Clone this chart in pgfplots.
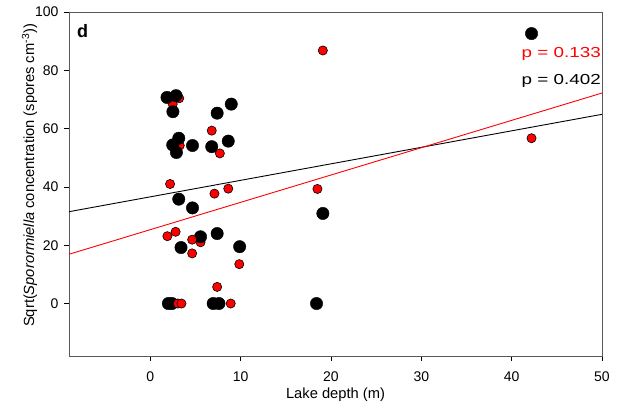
\documentclass[border=0pt]{standalone}
\usepackage{pgfplots}
\pgfplotsset{compat=1.18}
\usepackage{fontspec}
\setmainfont{Liberation Sans}
\newfontfamily\widefont{Liberation Sans}[FakeStretch=1.3]

\begin{document}
\begin{tikzpicture}
\useasboundingbox (-69pt,-53pt) rectangle (557pt,356pt);
\begin{axis}[
    at={(0,0)}, anchor=south west,
    width=533pt, height=344pt, scale only axis,
    xmin=-9, xmax=50, ymin=-18, ymax=100,
    xtick={0,10,...,50}, ytick={0,20,...,100},
    tick align=outside, tick pos=left,
    major tick length=5pt,
    tick style={black, line width=0.6pt},
    axis line style={draw=black!65, line width=0.8pt},
    /pgf/number format/assume math mode=true,
    ticklabel style={font=\fontsize{14}{16}\selectfont},
    xticklabel style={yshift=-7pt},
    yticklabel style={xshift=-2pt},
    xlabel={Lake depth (m)},
    ylabel={Sqrt(\textit{Sporormiella} concentration (spores cm\textsuperscript{-3}))},
    xlabel style={font=\fontsize{14.7}{16}\selectfont, at={(axis description cs:0.5,-0.113)}, anchor=center},
    ylabel style={font=\fontsize{14.7}{16}\selectfont, at={(axis description cs:-0.074,0.525)}, anchor=center},
    clip=false,
]
% regression lines
\addplot[black, line width=0.9pt] coordinates {(-9,31.5) (50,64.9)};
\addplot[red, line width=0.9pt] coordinates {(-9,16.9) (50,72.2)};

% red points partly covered by black ones
\addplot[only marks, mark=*, mark size=4.6pt, mark options={fill=red, draw=black, line width=0.6pt}]
  coordinates {(3.26,54.2) (3.2,70.4) (5.56,21.0) (2.48,68.4)};

% black points
\addplot[only marks, mark=*, mark size=6.2pt, mark options={fill=black, draw=black}]
  coordinates {
    (1.85,70.7) (2.85,71.3) (2.5,65.8) (8.96,68.4) (7.4,65.3)
    (3.15,56.7) (2.48,54.4) (2.89,51.8) (4.67,54.2) (6.8,53.8) (8.63,55.7)
    (3.15,35.8) (4.67,32.8) (7.4,24.0) (5.56,22.9) (3.4,19.2) (9.89,19.5)
    (19.1,30.9) (18.4,0) (2.0,0) (2.4,0) (6.96,0) (7.6,0) (42.2,92.6)
  };

% red points
\addplot[only marks, mark=*, mark size=4.6pt, mark options={fill=red, draw=black, line width=0.6pt}]
  coordinates {
    (19.1,86.8) (6.8,59.3) (7.7,51.5) (2.19,41.0) (7.1,37.7)
    (8.63,39.4) (18.5,39.3) (1.89,23.1) (2.8,24.6) (4.63,21.9) (4.63,17.2)
    (9.85,13.5) (7.4,5.7) (3.05,0) (3.45,0) (8.9,0) (42.2,56.7)
  };

\node[anchor=north west, font=\fontsize{18}{20}\selectfont\bfseries, inner sep=0pt]
  at ([xshift=8pt, yshift=-12pt]rel axis cs:0,1) {d};
\node[anchor=base east, red, font=\fontsize{14.5}{16}\selectfont\widefont, inner sep=0pt]
  at ([xshift=-1pt]axis cs:50,84.4) {p = 0.133};
\node[anchor=base east, black, font=\fontsize{14.5}{16}\selectfont\widefont, inner sep=0pt]
  at ([xshift=-1pt]axis cs:50,75.3) {p = 0.402};
\end{axis}
\end{tikzpicture}
\end{document}
